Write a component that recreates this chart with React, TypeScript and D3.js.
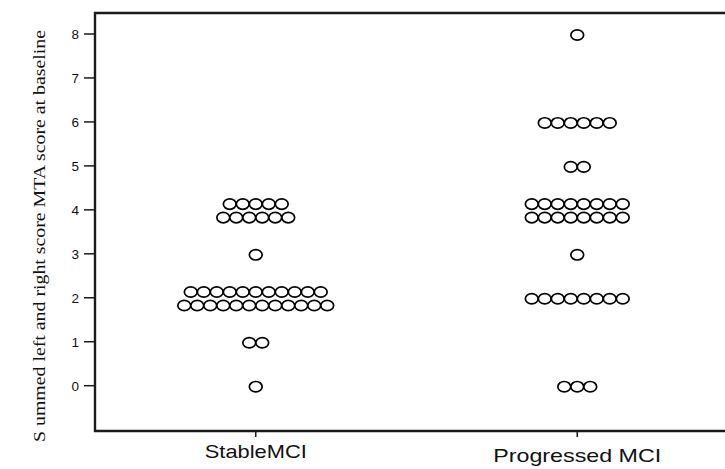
import React from "react";
import * as d3 from "d3";

const categories = ["StableMCI", "Progressed MCI"];
const yTicks = [0, 1, 2, 3, 4, 5, 6, 7, 8];
// each entry: score, and number of dots in each stacked row (top row first)
const stableRows = [
  { score: 0, counts: [1] },
  { score: 1, counts: [2] },
  { score: 2, counts: [11, 12] },
  { score: 3, counts: [1] },
  { score: 4, counts: [5, 6] },
];
const progressedRows = [
  { score: 0, counts: [3] },
  { score: 2, counts: [8] },
  { score: 3, counts: [1] },
  { score: 4, counts: [8, 8] },
  { score: 5, counts: [2] },
  { score: 6, counts: [6] },
  { score: 8, counts: [1] },
];
const groups = [stableRows, progressedRows];
const yLabel = "S ummed left and right score MTA score at baseline";

const W = 725;
const H = 469;
const left = 95;
const top = 13;
const bottom = 431;

export default function App() {
  const x = d3.scaleBand<string>().domain(categories).range([left, 738]);
  const y = d3.scaleLinear().domain([0, 8]).range([385.7, 34]);
  const spacing = 13;
  const rowGap = 13.5;

  const dots: { cx: number; cy: number; key: string }[] = [];
  groups.forEach((rows, gi) => {
    const cxCenter = (x(categories[gi]) as number) + x.bandwidth() / 2;
    rows.forEach((r) => {
      const nRows = r.counts.length;
      r.counts.forEach((n, ri) => {
        const cy = y(r.score) + 1 + (ri - (nRows - 1) / 2) * rowGap;
        for (let i = 0; i < n; i++) {
          const cx = cxCenter + (i - (n - 1) / 2) * spacing;
          dots.push({ cx, cy, key: `${gi}-${r.score}-${ri}-${i}` });
        }
      });
    });
  });

  const labelPos = [
    { baseline: 458, length: 102 },
    { baseline: 462, length: 168 },
  ];

  return (
    <svg
      width={W}
      height={H}
      style={{ position: "absolute", left: 0, top: 0, background: "#fff" }}
    >
      <rect x={0} y={0} width={W} height={H} fill="#fff" />
      {/* frame */}
      <path
        d={`M${W + 5},${top} L${left},${top} L${left},${bottom} L${W + 5},${bottom}`}
        fill="none"
        stroke="#1a1a1a"
        strokeWidth={2.4}
      />
      {/* y ticks */}
      {yTicks.map((t) => (
        <g key={t}>
          <line x1={84} x2={left} y1={y(t)} y2={y(t)} stroke="#1a1a1a" strokeWidth={1.5} />
          <text
            x={79}
            y={y(t)}
            dy="0.36em"
            textAnchor="end"
            fontFamily="Arial, 'Liberation Sans', sans-serif"
            fontSize={13.5}
            fill="#111"
          >
            {t}
          </text>
        </g>
      ))}
      {/* x ticks and labels */}
      {categories.map((c, i) => {
        const cx = (x(c) as number) + x.bandwidth() / 2;
        return (
          <g key={c}>
            <line x1={cx} x2={cx} y1={bottom} y2={bottom + 6} stroke="#1a1a1a" strokeWidth={1.5} />
            <text
              x={cx}
              y={labelPos[i].baseline}
              textAnchor="middle"
              fontFamily="Arial, 'Liberation Sans', sans-serif"
              fontSize={18.5}
              textLength={labelPos[i].length}
              lengthAdjust="spacingAndGlyphs"
              fill="#111"
            >
              {c}
            </text>
          </g>
        );
      })}
      {/* y label */}
      <text
        transform={`translate(45,236) rotate(-90)`}
        textAnchor="middle"
        fontFamily="'Liberation Serif', 'Times New Roman', serif"
        fontSize={17.5}
        textLength={412}
        lengthAdjust="spacingAndGlyphs"
        fill="#111"
      >
        {yLabel}
      </text>
      {/* dots */}
      {dots.map((d) => (
        <ellipse
          key={d.key}
          cx={d.cx}
          cy={d.cy}
          rx={6.4}
          ry={5.2}
          fill="#fff"
          stroke="#000"
          strokeWidth={1.7}
        />
      ))}
    </svg>
  );
}
